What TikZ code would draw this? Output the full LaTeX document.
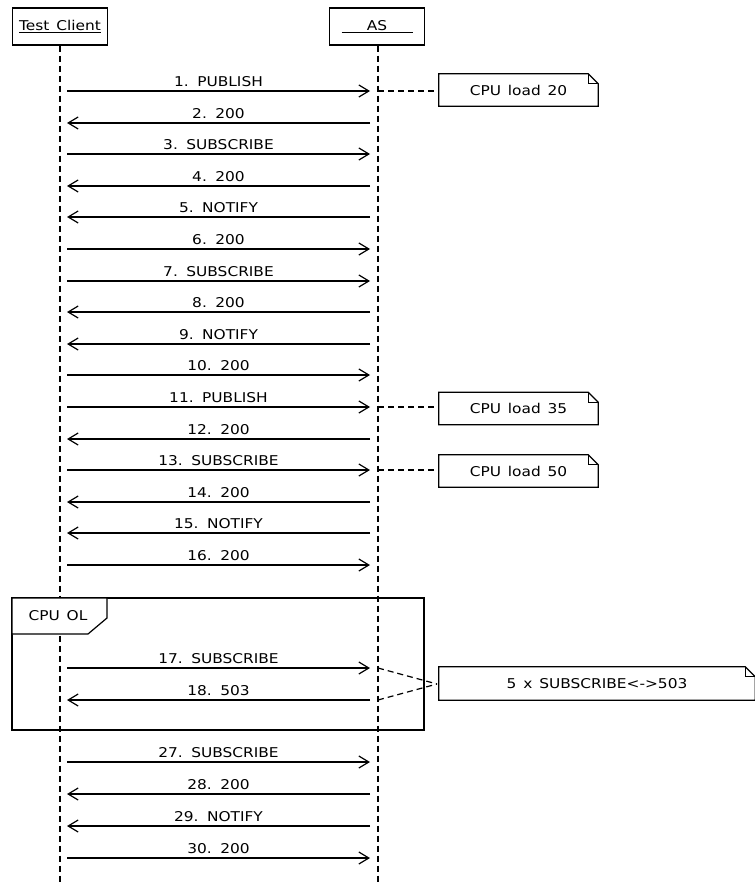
\documentclass[tikz,border=0pt]{standalone}
\usepackage{fontspec}
\setmainfont{DejaVu Sans}[FakeStretch=1.14,WordSpace=1.4]
\usetikzlibrary{arrows.meta}
\begin{document}
\begin{tikzpicture}[x=1pt,y=-1pt,
  txt/.style={font=\fontsize{13.5}{15}\selectfont, inner sep=0pt},
  header/.style={txt, draw, line width=1.2pt, minimum width=95pt, minimum height=37pt},
  lifeline/.style={line width=1.2pt, dash pattern=on 6pt off 4pt},
  msg/.style={line width=1.2pt, -{Straight Barb[length=10pt,width=12pt,line width=1.2pt]}},
  lbl/.style={txt, anchor=base},
  notetxt/.style={txt, minimum height=32pt},
  conn/.style={line width=1.2pt, dash pattern=on 6pt off 4pt},
  solid1/.style={line width=1.2pt}]
\useasboundingbox (0,0) rectangle (754,885);
\fill[white] (0,0) rectangle (754,885);

% headers
\node[header] (tc) at (60,26.5) {\underline{Test Client}};
\node[header] (as) at (377,26.5) {\underline{\makebox[71pt]{AS}}};
\coordinate (tcend) at (60,885);
\coordinate (asend) at (378,885);
\draw[lifeline] (tc.south) -- (tcend);
\draw[lifeline] ([xshift=1pt]as.south) -- (asend);

% messages
\foreach \i/\y/\d/\t in {
  1/91/r/{1. PUBLISH}, 2/123/l/{2. 200}, 3/154/r/{3. SUBSCRIBE},
  4/186/l/{4. 200}, 5/217/l/{5. NOTIFY}, 6/249/r/{6. 200},
  7/281/r/{7. SUBSCRIBE}, 8/312/l/{8. 200}, 9/344/l/{9. NOTIFY},
  10/375/r/{10. 200}, 11/407/r/{11. PUBLISH}, 12/439/l/{12. 200},
  13/470/r/{13. SUBSCRIBE}, 14/502/l/{14. 200}, 15/533/l/{15. NOTIFY},
  16/565/r/{16. 200}, 17/668/r/{17. SUBSCRIBE}, 18/700/l/{18. 503},
  27/762/r/{27. SUBSCRIBE}, 28/794/l/{28. 200}, 29/826/l/{29. NOTIFY},
  30/858/r/{30. 200}}{
  \coordinate (c\i) at (67,\y);
  \coordinate (a\i) at (370,\y);
  \coordinate (l\i) at (378,\y);
  \if r\d
    \draw[msg] (c\i) -- node[lbl, yshift=4.5pt] {\t} (a\i);
  \else
    \draw[msg] (a\i) -- node[lbl, yshift=4.5pt] {\t} (c\i);
  \fi
}

% notes
\newcommand\dognote[1]{%
  \draw[solid1] (#1.north west) -- ([xshift=-10pt]#1.north east)
     -- ([yshift=-10pt]#1.north east) -- (#1.south east) -- (#1.south west) -- cycle;
  \draw[solid1] ([xshift=-10pt]#1.north east) -- ([xshift=-10pt,yshift=-10pt]#1.north east)
     -- ([yshift=-10pt]#1.north east);}

\node[notetxt, minimum width=159pt] (n1) at (518.5,90) {CPU load 20};
\node[notetxt, minimum width=159pt] (n2) at (518.5,408.5) {CPU load 35};
\node[notetxt, minimum width=159pt] (n3) at (518.5,471) {CPU load 50};
\dognote{n1}\dognote{n2}\dognote{n3}
\draw[conn] (l1) -- (n1.west |- l1);
\draw[conn] (l11) -- (n2.west |- l11);
\draw[conn] (l13) -- (n3.west |- l13);

% frame CPU OL
\draw[solid1] (12,598) rectangle (424,730);
\filldraw[solid1, fill=white] (12,598) -- (12,634) -- (88,634) -- (107,618) -- (107,598) -- cycle;
\node[txt] (ol) at (58,616) {CPU OL};

% big note
\node[notetxt, minimum width=316pt, minimum height=33pt] (n4) at (597,683.5) {5 x SUBSCRIBE<->503};
\dognote{n4}
\coordinate (m4) at (437,684);
\draw[conn] (l17) -- (m4);
\draw[conn] (l18) -- (m4);
\end{tikzpicture}
\end{document}
